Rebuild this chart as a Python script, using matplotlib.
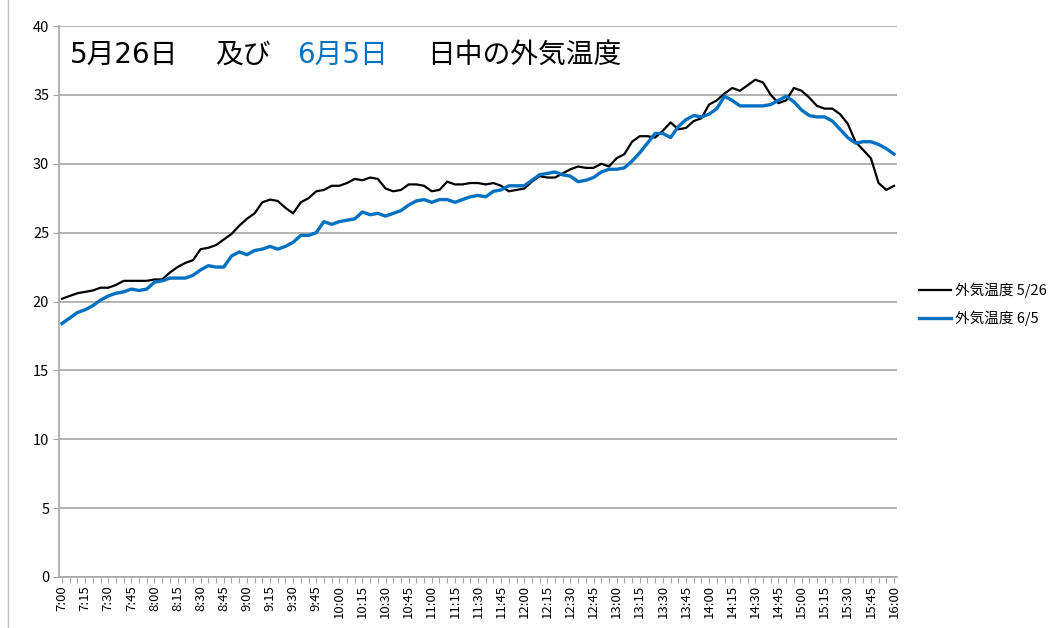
import matplotlib
matplotlib.use('Agg')
import matplotlib.pyplot as plt

plt.rcParams['font.family'] = ['Noto Sans CJK JP', 'DejaVu Sans']

# 5分毎 7:00 - 16:00
times = ['%d:%02d' % (7 + i * 5 // 60, (i * 5) % 60) for i in range(109)]

temp_0526 = [20.2, 20.4, 20.6, 20.7, 20.8, 21.0, 21.0, 21.2, 21.5, 21.5, 21.5, 21.5,
             21.6, 21.6, 22.1, 22.5, 22.8, 23.0, 23.8, 23.9, 24.1, 24.5, 24.9, 25.5,
             26.0, 26.4, 27.2, 27.4, 27.3, 26.8, 26.4, 27.2, 27.5, 28.0, 28.1, 28.4,
             28.4, 28.6, 28.9, 28.8, 29.0, 28.9, 28.2, 28.0, 28.1, 28.5, 28.5, 28.4,
             28.0, 28.1, 28.7, 28.5, 28.5, 28.6, 28.6, 28.5, 28.6, 28.4, 28.0, 28.1,
             28.2, 28.7, 29.1, 29.0, 29.0, 29.3, 29.6, 29.8, 29.7, 29.7, 30.0, 29.8,
             30.4, 30.7, 31.6, 32.0, 32.0, 31.9, 32.4, 33.0, 32.5, 32.6, 33.1, 33.3,
             34.3, 34.6, 35.1, 35.5, 35.3, 35.7, 36.1, 35.9, 35.0, 34.4, 34.6, 35.5,
             35.3, 34.8, 34.2, 34.0, 34.0, 33.6, 32.9, 31.6, 31.0, 30.4, 28.6, 28.1,
             28.4]

temp_0605 = [18.4, 18.8, 19.2, 19.4, 19.7, 20.1, 20.4, 20.6, 20.7, 20.9, 20.8, 20.9,
             21.4, 21.5, 21.7, 21.7, 21.7, 21.9, 22.3, 22.6, 22.5, 22.5, 23.3, 23.6,
             23.4, 23.7, 23.8, 24.0, 23.8, 24.0, 24.3, 24.8, 24.8, 25.0, 25.8, 25.6,
             25.8, 25.9, 26.0, 26.5, 26.3, 26.4, 26.2, 26.4, 26.6, 27.0, 27.3, 27.4,
             27.2, 27.4, 27.4, 27.2, 27.4, 27.6, 27.7, 27.6, 28.0, 28.1, 28.4, 28.4,
             28.4, 28.8, 29.2, 29.3, 29.4, 29.2, 29.1, 28.7, 28.8, 29.0, 29.4, 29.6,
             29.6, 29.7, 30.2, 30.8, 31.5, 32.2, 32.2, 31.9, 32.7, 33.2, 33.5, 33.4,
             33.6, 34.0, 34.9, 34.6, 34.2, 34.2, 34.2, 34.2, 34.3, 34.6, 34.9, 34.5,
             33.9, 33.5, 33.4, 33.4, 33.1, 32.5, 31.9, 31.5, 31.6, 31.6, 31.4, 31.1,
             30.7]

yticks = [0, 5, 10, 15, 20, 25, 30, 35, 40]
grey = '#a6a6a6'
blue = '#0070c0'

fig = plt.figure(figsize=(10.55, 6.28), dpi=100)
ax = fig.add_axes([59 / 1055, 1 - 577 / 628, 838 / 1055, 551 / 628])

x = list(range(len(times)))
ax.plot(x, temp_0526, color='black', lw=1.6, label='外気温度 5/26')
ax.plot(x, temp_0605, color=blue, lw=2.4, label='外気温度 6/5')

ax.set_ylim(0, 40)
ax.set_yticks(yticks)
ax.set_xlim(-0.39, 108.39)
ax.set_xticks(x)
ax.set_xticklabels([t if i % 3 == 0 else '' for i, t in enumerate(times)],
                   rotation=90, fontsize=9.5)
ax.tick_params(axis='x', length=4, color=grey, pad=2)
ax.tick_params(axis='y', length=4, color=grey, labelsize=10.5, pad=3)
ax.grid(axis='y', color=grey, lw=1.2)
ax.set_axisbelow(True)
for s in ['top', 'right']:
    ax.spines[s].set_visible(False)
for s in ['left', 'bottom']:
    ax.spines[s].set_color(grey)
    ax.spines[s].set_linewidth(1.2)

# タイトル (数字は幅の広い DejaVu、漢字は Noto)
ty = 1 - 55 / 628
tfam = ['DejaVu Sans', 'Noto Sans CJK JP']
fig.text(70 / 1055, ty, '5月26日', fontsize=20, va='center', family=tfam)
fig.text(215 / 1055, ty, '及び', fontsize=20, va='center', family=tfam)
fig.text(297 / 1055, ty, '6月5日', fontsize=20, va='center', color=blue, family=tfam)
fig.text(427 / 1055, ty, '日中の外気温度', fontsize=20, va='center', family=tfam)

ax.legend(loc='center left', bbox_to_anchor=(1.01, 0.495), frameon=False,
          fontsize=10.5, handlelength=2.2, handletextpad=0.3, labelspacing=0.8)

# chart border line at the left
fig.add_artist(plt.Line2D([8 / 1055, 8 / 1055], [0, 1], color='#bfbfbf', lw=1))

fig.savefig('out.png', dpi=100)
